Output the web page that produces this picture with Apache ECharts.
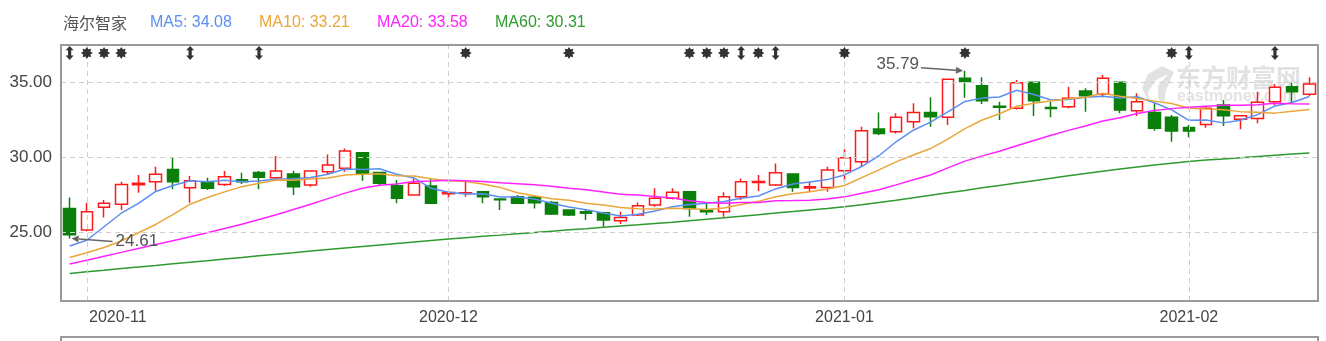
<!DOCTYPE html>
<html><head><meta charset="utf-8">
<script src="https://cdn.jsdelivr.net/npm/echarts@6/dist/echarts.min.js"></script>
<style>html,body{margin:0;padding:0;background:#fff}#c{width:1326px;height:341px}</style>
</head><body><div id="c"></div>
<script>
const stockName = '海尔智家';
const dates = ['2020-10-30',
'2020-11-02','2020-11-03','2020-11-04','2020-11-05','2020-11-06','2020-11-09','2020-11-10','2020-11-11','2020-11-12','2020-11-13',
'2020-11-16','2020-11-17','2020-11-18','2020-11-19','2020-11-20','2020-11-23','2020-11-24','2020-11-25','2020-11-26','2020-11-27','2020-11-30',
'2020-12-01','2020-12-02','2020-12-03','2020-12-04','2020-12-07','2020-12-08','2020-12-09','2020-12-10','2020-12-11','2020-12-14','2020-12-15',
'2020-12-16','2020-12-17','2020-12-18','2020-12-21','2020-12-22','2020-12-23','2020-12-24','2020-12-25','2020-12-28','2020-12-29','2020-12-30','2020-12-31',
'2021-01-04','2021-01-05','2021-01-06','2021-01-07','2021-01-08','2021-01-11','2021-01-12','2021-01-13','2021-01-14','2021-01-15',
'2021-01-18','2021-01-19','2021-01-20','2021-01-21','2021-01-22','2021-01-25','2021-01-26','2021-01-27','2021-01-28','2021-01-29',
'2021-02-01','2021-02-02','2021-02-03','2021-02-04','2021-02-05','2021-02-08','2021-02-09','2021-02-10'];
const open = [26.62,25.18,26.69,26.89,28.2,28.4,29.22,28.0,28.36,28.22,
28.53,29.02,28.67,28.91,28.18,29.07,29.29,30.33,29.02,28.13,
27.51,28.11,27.6,27.64,27.73,27.24,27.4,27.36,27.02,26.51,
26.4,26.33,25.8,26.18,26.84,27.29,27.73,26.5,26.4,27.4,
28.35,28.18,28.91,27.98,28.02,29.13,29.73,31.91,31.73,32.4,
33.02,32.69,35.29,34.8,33.42,33.29,35.02,33.35,33.4,34.44,
34.24,35.02,33.13,33.02,32.69,32.02,32.22,33.51,32.56,32.62,
33.73,34.73,34.22];
const close = [24.86,26.4,26.96,28.22,28.3,28.89,28.4,28.47,27.96,28.73,
28.4,28.69,29.11,28.07,29.11,29.51,30.44,28.96,28.29,27.29,
28.29,26.96,27.68,27.67,27.4,27.2,26.96,27.0,26.24,26.18,
26.29,25.84,26.02,26.8,27.29,27.69,26.62,26.4,27.4,28.4,
28.42,29.0,28.02,28.07,29.18,30.0,31.8,31.62,32.69,33.02,
32.73,35.22,35.07,33.8,33.36,35.0,33.8,33.27,33.96,34.13,
35.29,33.18,33.73,31.96,31.78,31.78,33.29,32.8,32.8,33.69,
34.69,34.4,34.91];
const high = [27.35,27.0,27.18,28.4,28.84,29.4,30.02,28.78,28.67,29.11,
29.0,29.11,30.11,29.13,29.15,30.22,30.62,30.33,29.07,28.51,
28.62,28.62,27.78,28.51,27.75,27.25,27.51,27.51,27.11,26.51,
26.56,26.4,26.4,27.02,27.96,27.96,27.73,27.0,27.69,28.62,
28.84,29.62,28.91,28.4,29.4,30.56,32.07,33.02,32.96,33.62,
34.02,35.22,35.79,35.36,33.73,35.18,35.07,33.73,34.73,34.62,
35.51,35.07,34.29,33.62,32.84,32.18,33.36,33.84,32.84,34.4,
34.91,35.0,35.36];
const low = [24.61,25.1,26.02,26.51,27.67,27.8,27.89,27.0,27.84,28.11,
28.24,27.89,28.56,27.51,28.07,28.84,29.07,28.47,28.11,26.96,
27.47,26.96,27.29,27.4,26.96,26.51,26.91,26.62,26.18,26.11,
25.84,25.4,25.58,26.11,26.73,27.22,26.07,26.18,26.07,27.18,
27.78,28.11,27.73,27.73,27.73,28.4,29.44,31.51,31.62,31.96,
32.07,32.18,34.0,33.58,32.51,33.22,32.78,32.69,33.29,33.07,
34.02,32.96,32.78,31.8,31.07,31.36,32.0,32.11,31.89,32.29,
33.51,33.62,34.11];
const ma5 = [24.11,24.5,25.4,26.3,26.95,27.75,28.15,28.46,28.40,28.49,
28.39,28.45,28.58,28.60,28.68,28.90,29.25,29.22,29.26,28.90,
28.65,27.96,27.70,27.58,27.60,27.38,27.38,27.25,26.96,26.72,
26.53,26.31,26.11,26.23,26.45,26.73,26.88,26.96,27.08,27.30,
27.45,27.92,28.25,28.38,28.54,28.85,29.41,30.13,31.06,31.83,
32.37,33.06,33.75,33.97,34.04,34.49,34.21,33.85,33.88,34.03,
34.09,33.97,34.06,33.66,33.19,32.49,32.51,32.32,32.49,32.87,
33.45,33.68,34.08];
const ma10 = [23.35,23.67,24.02,24.45,25.0,25.55,26.2,26.9,27.35,27.72,
28.07,28.30,28.52,28.50,28.58,28.65,28.85,28.90,28.93,28.79,
28.78,28.60,28.46,28.42,28.25,28.02,27.67,27.47,27.27,27.16,
26.96,26.85,26.68,26.59,26.58,26.63,26.60,26.54,26.65,26.88,
27.09,27.40,27.60,27.73,27.92,28.15,28.67,29.19,29.72,30.18,
30.61,31.24,31.94,32.51,32.93,33.43,33.63,33.80,33.92,34.03,
34.29,34.09,33.95,33.77,33.61,33.29,33.24,33.19,33.07,33.03,
32.97,33.09,33.21];
const ma20 = [22.91,23.17,23.43,23.69,23.95,24.21,24.47,24.73,25.0,25.28,
25.57,25.88,26.2,26.55,26.9,27.27,27.64,27.97,28.17,28.25,
28.42,28.45,28.49,28.46,28.42,28.33,28.26,28.19,28.10,27.97,
27.87,27.72,27.57,27.51,27.42,27.32,27.13,27.01,26.96,27.02,
27.02,27.13,27.14,27.16,27.25,27.39,27.63,27.86,28.19,28.53,
28.85,29.32,29.77,30.12,30.43,30.79,31.15,31.49,31.82,32.11,
32.45,32.66,32.95,33.14,33.27,33.36,33.43,33.49,33.50,33.53,
33.63,33.59,33.58];
const ma60 = [22.29,22.4,22.5,22.61,22.72,22.82,22.93,23.04,23.14,23.25,
23.35,23.46,23.57,23.67,23.78,23.88,23.98,24.08,24.18,24.28,
24.38,24.48,24.58,24.67,24.76,24.84,24.93,25.01,25.1,25.19,
25.27,25.36,25.45,25.53,25.62,25.7,25.8,25.9,26.0,26.1,
26.2,26.31,26.41,26.52,26.62,26.73,26.87,27.02,27.17,27.33,
27.49,27.66,27.82,27.99,28.15,28.31,28.47,28.63,28.79,28.95,
29.1,29.25,29.38,29.51,29.63,29.75,29.84,29.92,30.0,30.08,
30.16,30.24,30.31];
const maNames = ['MA5','MA10','MA20','MA60'];
const maLast = ['34.08','33.21','33.58','30.31'];
const yTicks = [25, 30, 35];
const markerIdx  = [0,1,2,3,7,11,23,29,36,37,38,39,40,41,45,52,64,65,70];
const markerType = ['arrow','star','star','star','arrow','arrow','star','star','star','star','star','arrow','star','arrow','star','star','star','arrow','arrow'];

// ---- styling / layout ----
const maColors = ['#5b8ef0','#eaa63a','#ff22ff','#2f9a2f'];
const LAT = '"Liberation Sans", Arial, sans-serif';
const CJK = '"Noto Sans CJK SC", sans-serif';
const Y_MIN = 20.45, Y_MAX = 37.51, MARK_Y = Y_MAX - 0.53;
const STAR = 'path://M10 0 L12.49 4.0 L17.07 2.93 L16.0 7.51 L20 10 L16.0 12.49 L17.07 17.07 L12.49 16.0 L10 20 L7.51 16.0 L2.93 17.07 L4.0 12.49 L0 10 L4.0 7.51 L2.93 2.93 L7.51 4.0 Z';
const ARROW = 'path://M4 0 L8 5 L5.6 5 L5.6 11 L8 11 L4 16 L0 11 L2.4 11 L2.4 5 L0 5 Z';

const candleData = dates.map((d, i) => [open[i], close[i], low[i], high[i]]);
const monthStarts = [];
for (let i = 1; i < dates.length; i++) if (dates[i].slice(0,7) !== dates[i-1].slice(0,7)) monthStarts.push(i);

const chart = echarts.init(document.getElementById('c'), null, {renderer: 'canvas'});
const mkLine = (name, data, color) => ({
  name, type: 'line', data, showSymbol: false, symbol: 'none', smooth: false,
  lineStyle: {color, width: 1.5}, itemStyle: {color}, z: 3, silent: true, animation: false
});
const markerSeries = (type, symbol, size) => ({
  type: 'scatter', symbol, symbolSize: size, silent: true, animation: false, z: 6,
  itemStyle: {color: '#000'},
  data: markerIdx.filter((_, k) => markerType[k] === type).map(i => [i, MARK_Y])
});

chart.setOption({
  animation: false,
  backgroundColor: '#fff',
  grid: {left: 61, right: 8, top: 45, bottom: 40, show: false},
  xAxis: {
    type: 'category', data: dates, boundaryGap: true,
    axisLine: {show: false}, axisTick: {show: false}, splitLine: {show: false},
    axisLabel: {
      interval: (idx) => monthStarts.includes(idx),
      margin: 9,
      color: '#444', fontSize: 16, fontFamily: LAT,
      formatter: (v, idx) => idx === monthStarts[0] ? '{f|' + v.slice(0,7) + '}' : v.slice(0,7),
      rich: {f: {padding: [0,0,0,62], color: '#444', fontSize: 16, fontFamily: LAT}}
    }
  },
  yAxis: {
    type: 'value', min: Y_MIN, max: Y_MAX, splitNumber: 3, scale: true,
    axisLine: {show: false}, axisTick: {show: false}, splitLine: {show: false},
    axisLabel: {
      customValues: yTicks,
      margin: 9, color: '#444', fontSize: 17, fontFamily: LAT,
      formatter: v => yTicks.includes(v) ? v.toFixed(2) : ''
    }
  },
  series: [
    {
      type: 'candlestick', data: candleData, barWidth: 12, silent: true, animation: false,
      itemStyle: {color: '#ffffff', color0: '#0a7f0a', borderColor: '#ff1a1a', borderColor0: '#0a7f0a', borderWidth: 1.5},
      markLine: {
        silent: true, symbol: 'none', animation: false, label: {show: false},
        lineStyle: {type: [5, 4], color: '#cfcfcf', width: 1},
        data: monthStarts.map(i => ({xAxis: dates[i]})).concat(yTicks.map(v => ({yAxis: v})))
      }
    },
    mkLine(maNames[0], ma5, maColors[0]),
    mkLine(maNames[1], ma10, maColors[1]),
    mkLine(maNames[2], ma20, maColors[2]),
    mkLine(maNames[3], ma60, maColors[3]),
    markerSeries('star', STAR, [12, 12]),
    markerSeries('arrow', ARROW, [8, 14])
  ]
});

// ---- annotations, legend, frame ----
let hiI = 0, loI = 0;
high.forEach((v, i) => { if (v > high[hiI]) hiI = i; });
low.forEach((v, i) => { if (v < low[loI]) loI = i; });
const pHi = chart.convertToPixel({gridIndex: 0}, [hiI, high[hiI]]);
const pLo = chart.convertToPixel({gridIndex: 0}, [loI, low[loI]]);

function arrow(x1, y1, x2, y2) {
  const ang = Math.atan2(y2 - y1, x2 - x1), L = 7, W = 3.5;
  const bx = x2 - L * Math.cos(ang), by = y2 - L * Math.sin(ang);
  const nx = -Math.sin(ang), ny = Math.cos(ang);
  return [
    {type: 'line', z: 20, silent: true, shape: {x1, y1, x2: bx, y2: by}, style: {stroke: '#666', lineWidth: 1.5}},
    {type: 'polygon', z: 20, silent: true, shape: {points: [[x2, y2], [bx + nx * W, by + ny * W], [bx - nx * W, by - ny * W]]}, style: {fill: '#666'}}
  ];
}
const g = [];
g.push(...arrow(pHi[0] - 44, pHi[1] - 3, pHi[0] - 2, pHi[1]));
g.push({type: 'text', z: 20, silent: true, x: pHi[0] - 46, y: pHi[1] - 6,
  style: {text: high[hiI].toFixed(2), fill: '#555', font: '17px ' + LAT, align: 'right', verticalAlign: 'middle'}});
g.push(...arrow(pLo[0] + 43, pLo[1] + 3, pLo[0] + 2, pLo[1]));
g.push({type: 'text', z: 20, silent: true, x: pLo[0] + 46, y: pLo[1] + 3,
  style: {text: low[loI].toFixed(2), fill: '#555', font: '17px ' + LAT, align: 'left', verticalAlign: 'middle'}});

// legend
g.push({type: 'text', silent: true, x: 63, y: 23, style: {text: stockName, fill: '#555', font: '16px ' + CJK, verticalAlign: 'middle'}});
const legX = [150, 259, 377, 495];
maNames.forEach((n, k) => g.push({type: 'text', silent: true, x: legX[k], y: 23,
  style: {text: n + ': ' + maLast[k], fill: maColors[k], font: '16px ' + LAT, verticalAlign: 'middle'}}));

// watermark
g.push({type: 'text', silent: true, z: 1, x: 1176, y: 77, style: {text: '东方财富网', fill: 'rgba(185,185,185,0.42)', font: 'bold 25px ' + CJK, verticalAlign: 'middle'}});
g.push({type: 'text', silent: true, z: 1, x: 1177, y: 97, style: {text: 'eastmoney.com', fill: 'rgba(185,185,185,0.42)', font: 'bold 16px ' + LAT, verticalAlign: 'middle'}});
g.push({type: 'polygon', silent: true, z: 1, shape: {points: [[1162,66],[1148,74],[1142,88],[1150,106],[1148,92],[1156,80],[1168,74],[1158,86],[1158,98],[1164,104],[1166,90],[1174,72]]}, style: {fill: 'rgba(185,185,185,0.42)'}});

// frames
g.push({type: 'rect', silent: true, z: 30, shape: {x: 61, y: 45, width: 1257, height: 256}, style: {fill: 'none', stroke: '#9a9a9a', lineWidth: 2}});
g.push({type: 'rect', silent: true, z: 30, shape: {x: 61, y: 337, width: 1257, height: 30}, style: {fill: 'none', stroke: '#9a9a9a', lineWidth: 2}});

chart.setOption({graphic: g});
</script>
</body></html>
